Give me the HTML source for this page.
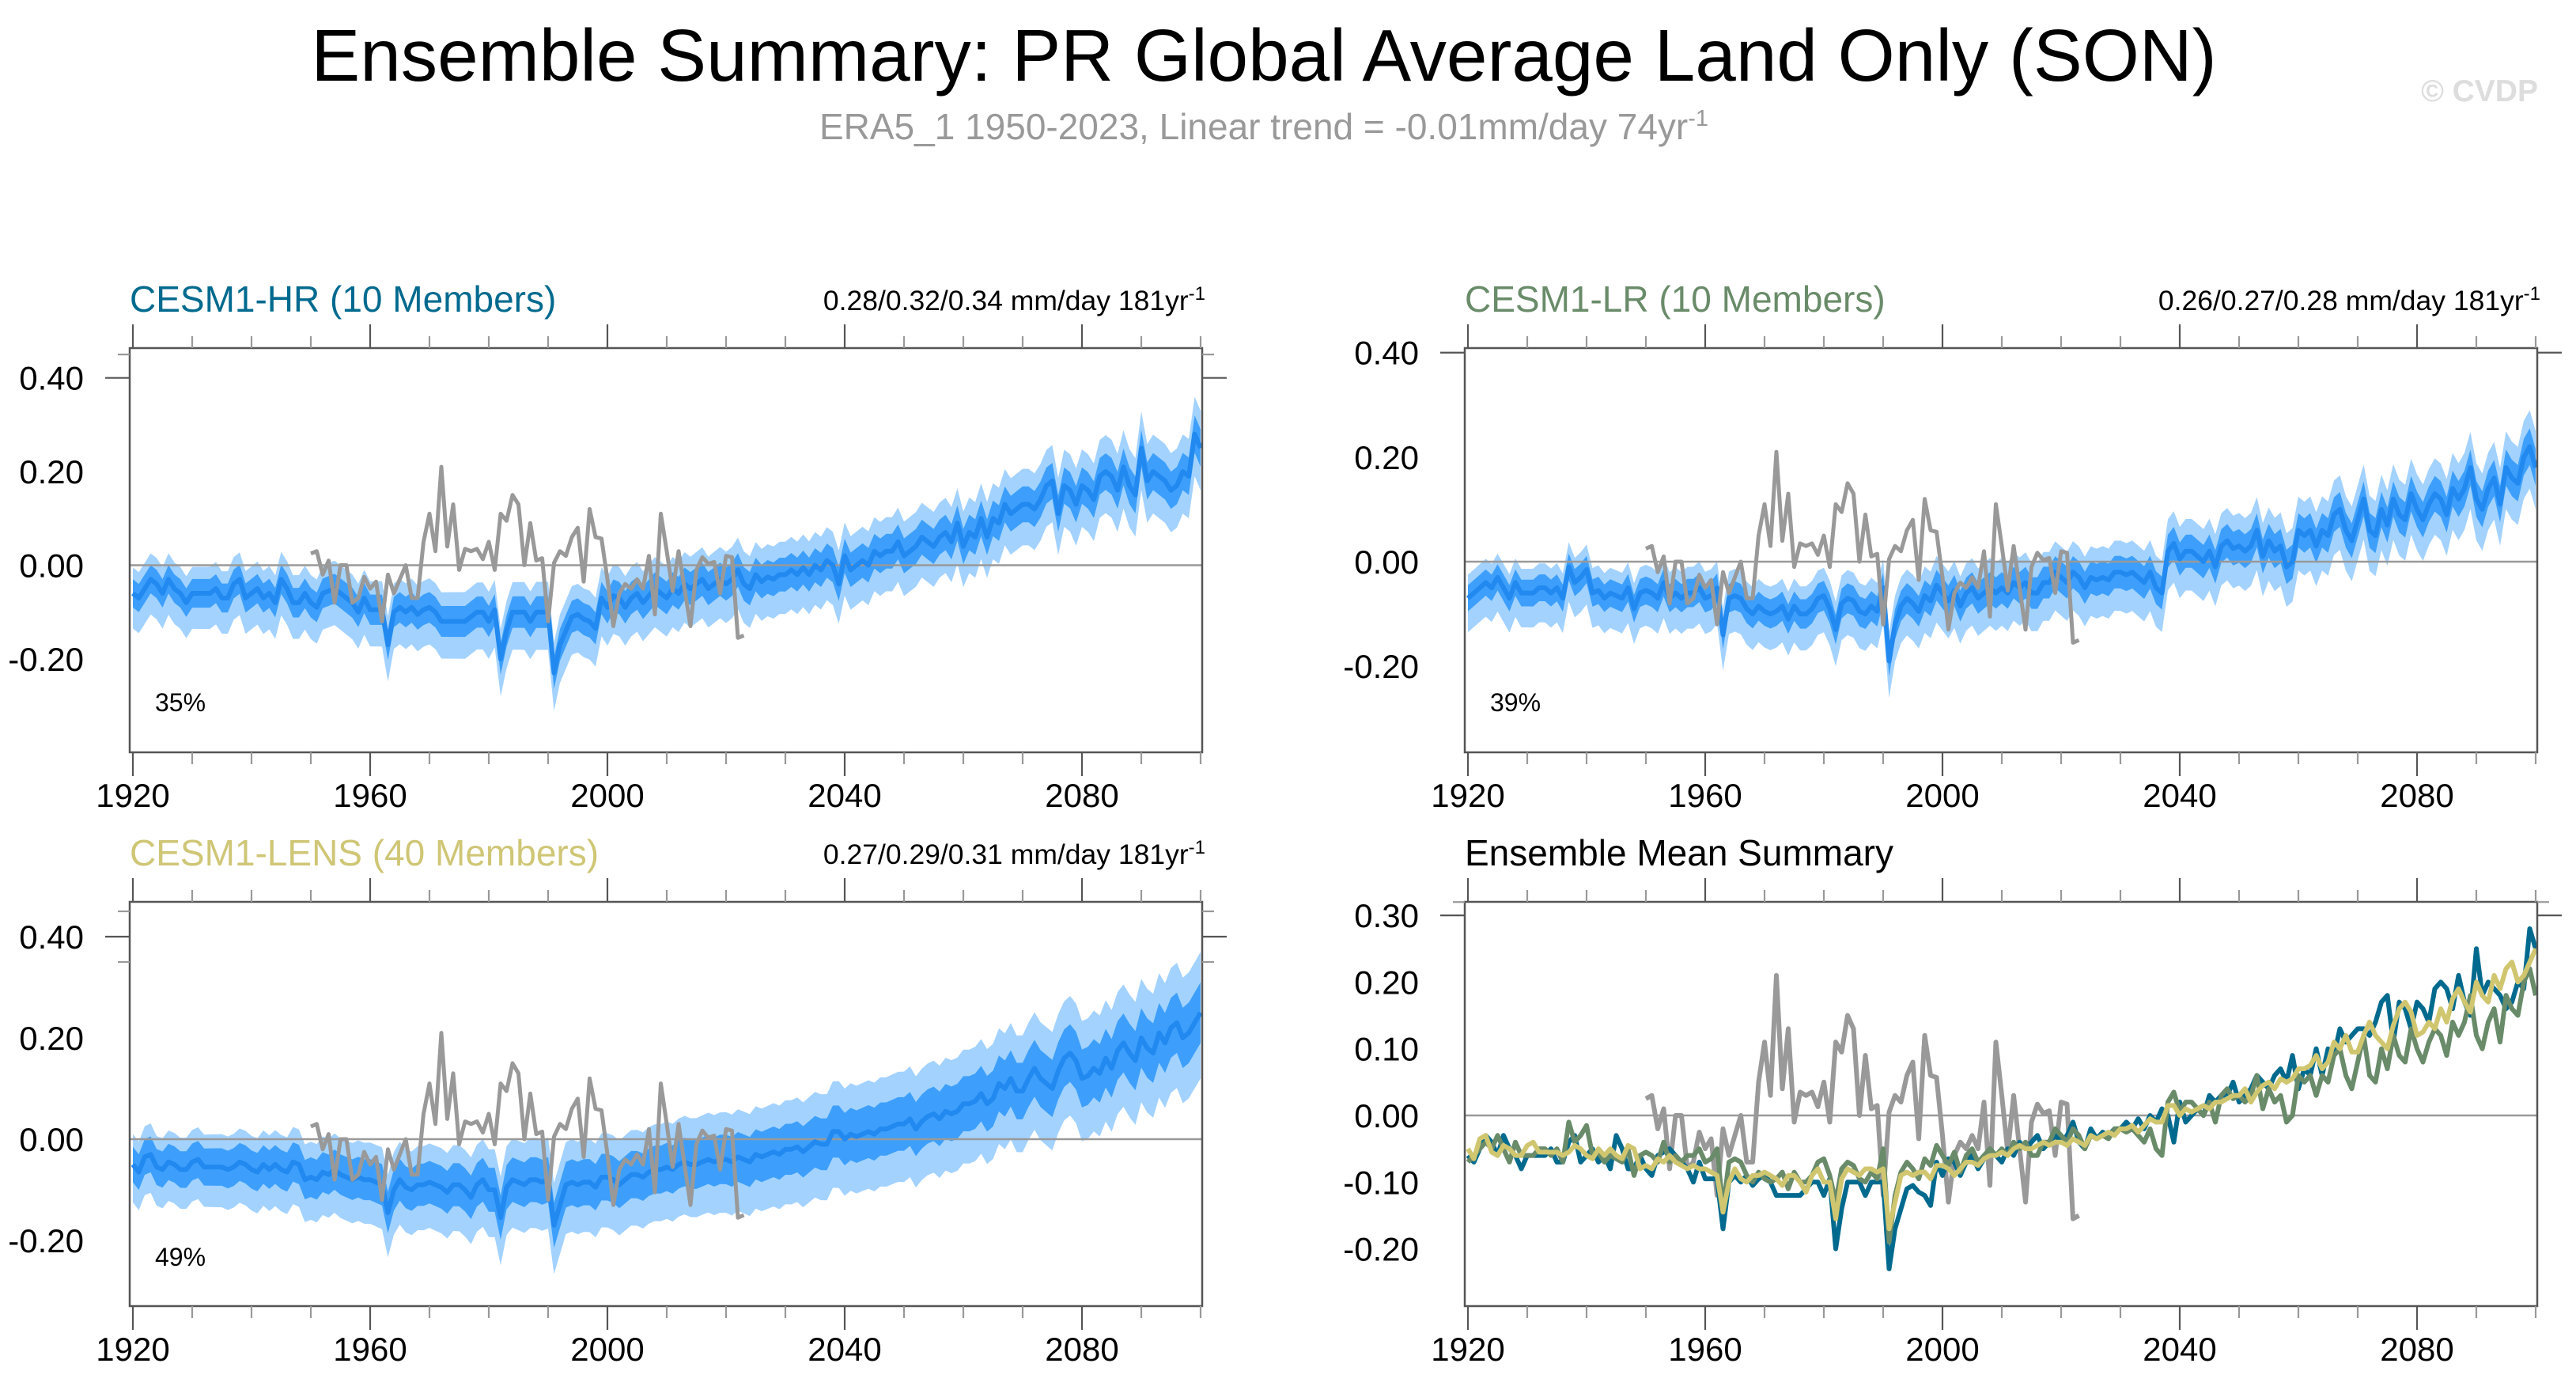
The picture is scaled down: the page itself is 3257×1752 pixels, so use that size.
<!DOCTYPE html>
<html><head><meta charset="utf-8"><style>
html,body{margin:0;padding:0;background:#fff}
svg{display:block}
text{font-family:"Liberation Sans",sans-serif}
</style></head><body>
<svg id="c" width="3257" height="1752" viewBox="0 0 3257 1752" xmlns="http://www.w3.org/2000/svg">
<text x="1598" y="102" font-size="92.7" text-anchor="middle" fill="#000">Ensemble Summary: PR Global Average Land Only (SON)</text>
<text x="1598" y="176" font-size="46" text-anchor="middle" fill="#999">ERA5_1 1950-2023, Linear trend = -0.01mm/day 74yr<tspan dy="-17" font-size="29">-1</tspan></text>
<text x="3209" y="128" font-size="39" font-weight="bold" text-anchor="end" fill="#ddd">© CVDP</text>
<g id="plots"></g>
</svg>
<script>
const years = [];
for (let y = 1920; y <= 2100; y++) years.push(y);
const obsStartYear = 1950;
const hrMean = [
-0.06,-0.07,-0.05,-0.03,-0.04,-0.06,-0.03,-0.05,-0.06,-0.08,
-0.06,-0.06,-0.06,-0.06,-0.05,-0.07,-0.07,-0.04,-0.03,-0.07,
-0.06,-0.05,-0.07,-0.06,-0.08,-0.03,-0.05,-0.08,-0.08,-0.06,
-0.08,-0.09,-0.06,-0.055,-0.05,-0.06,-0.07,-0.08,-0.10,-0.07,
-0.095,-0.095,-0.095,-0.17,-0.10,-0.09,-0.10,-0.09,-0.105,-0.095,
-0.09,-0.10,-0.12,-0.12,-0.12,-0.12,-0.12,-0.11,-0.10,-0.10,
-0.12,-0.095,-0.20,-0.14,-0.10,-0.10,-0.10,-0.12,-0.10,-0.10,
-0.10,-0.23,-0.17,-0.14,-0.11,-0.105,-0.115,-0.12,-0.135,-0.07,
-0.09,-0.065,-0.07,-0.09,-0.07,-0.06,-0.08,-0.065,-0.05,-0.06,
-0.07,-0.05,-0.06,-0.04,-0.05,-0.04,-0.03,-0.05,-0.04,-0.03,
-0.04,-0.03,-0.01,-0.04,-0.05,-0.02,-0.035,-0.025,-0.03,-0.02,
-0.02,-0.01,-0.02,-0.005,-0.02,0.00,-0.01,0.01,0.00,-0.04,
0.02,-0.01,0.0,0.01,0.0,0.03,0.02,0.03,0.03,0.05,
0.02,0.03,0.04,0.06,0.05,0.04,0.06,0.07,0.05,0.09,
0.04,0.07,0.06,0.10,0.06,0.10,0.09,0.13,0.11,0.12,
0.13,0.13,0.12,0.14,0.17,0.18,0.11,0.17,0.16,0.13,
0.17,0.16,0.14,0.19,0.20,0.19,0.16,0.21,0.17,0.15,
0.25,0.18,0.20,0.19,0.18,0.16,0.17,0.20,0.19,0.28,
0.25];
const lrMean = [
-0.07,-0.06,-0.05,-0.04,-0.05,-0.03,-0.05,-0.07,-0.04,-0.06,
-0.06,-0.06,-0.05,-0.05,-0.06,-0.05,-0.07,-0.01,-0.04,-0.03,
-0.015,-0.06,-0.055,-0.07,-0.06,-0.065,-0.07,-0.05,-0.09,-0.06,
-0.055,-0.06,-0.07,-0.04,-0.07,-0.06,-0.07,-0.06,-0.06,-0.05,
-0.07,-0.065,-0.05,-0.14,-0.07,-0.065,-0.07,-0.09,-0.10,-0.085,
-0.095,-0.10,-0.095,-0.085,-0.11,-0.085,-0.10,-0.10,-0.09,-0.07,
-0.065,-0.09,-0.13,-0.08,-0.07,-0.075,-0.095,-0.10,-0.085,-0.095,
-0.05,-0.19,-0.12,-0.085,-0.07,-0.08,-0.095,-0.065,-0.075,-0.045,
-0.06,-0.075,-0.055,-0.085,-0.06,-0.05,-0.07,-0.06,-0.05,-0.06,
-0.05,-0.06,-0.04,-0.05,-0.04,-0.06,-0.06,-0.04,-0.04,-0.02,
-0.03,-0.04,-0.02,-0.03,-0.05,-0.03,-0.035,-0.03,-0.035,-0.02,
-0.02,-0.025,-0.02,-0.03,-0.04,-0.02,-0.05,-0.06,0.02,0.035,
0.005,0.02,0.02,0.01,0.0,0.02,-0.01,0.03,0.04,0.025,
0.03,0.02,0.03,0.06,0.01,0.04,0.02,0.03,-0.01,0.0,
0.06,0.05,0.06,0.03,0.06,0.05,0.09,0.10,0.06,0.04,
0.08,0.12,0.06,0.05,0.10,0.07,0.12,0.09,0.08,0.13,
0.10,0.08,0.11,0.13,0.12,0.09,0.14,0.12,0.14,0.18,
0.12,0.10,0.14,0.16,0.11,0.18,0.16,0.15,0.20,0.22,
0.18];
const lensMean = [
-0.05,-0.065,-0.035,-0.03,-0.055,-0.06,-0.045,-0.05,-0.06,-0.06,
-0.045,-0.04,-0.055,-0.055,-0.055,-0.055,-0.06,-0.055,-0.045,-0.05,
-0.06,-0.065,-0.05,-0.06,-0.05,-0.06,-0.065,-0.045,-0.05,-0.08,
-0.075,-0.08,-0.065,-0.07,-0.06,-0.07,-0.075,-0.08,-0.075,-0.08,
-0.08,-0.085,-0.09,-0.145,-0.10,-0.08,-0.095,-0.10,-0.09,-0.09,
-0.085,-0.09,-0.095,-0.105,-0.09,-0.09,-0.10,-0.115,-0.09,-0.08,
-0.10,-0.10,-0.155,-0.095,-0.08,-0.085,-0.09,-0.08,-0.08,-0.085,
-0.08,-0.17,-0.13,-0.09,-0.085,-0.09,-0.085,-0.085,-0.095,-0.075,
-0.075,-0.08,-0.09,-0.08,-0.07,-0.07,-0.075,-0.065,-0.06,-0.06,
-0.055,-0.06,-0.05,-0.045,-0.05,-0.05,-0.045,-0.04,-0.045,-0.04,
-0.04,-0.045,-0.035,-0.04,-0.045,-0.03,-0.035,-0.03,-0.025,-0.03,
-0.02,-0.02,-0.015,-0.025,-0.015,-0.005,-0.01,-0.01,0.015,0.015,
0.0,0.01,0.005,0.01,0.015,0.01,0.02,0.02,0.025,0.03,
0.03,0.04,0.02,0.035,0.045,0.05,0.04,0.055,0.05,0.055,
0.07,0.07,0.075,0.09,0.07,0.08,0.11,0.10,0.12,0.095,
0.095,0.12,0.14,0.12,0.11,0.10,0.135,0.16,0.17,0.155,
0.12,0.125,0.14,0.13,0.16,0.14,0.175,0.19,0.17,0.155,
0.20,0.18,0.17,0.21,0.19,0.22,0.23,0.2,0.21,0.23,
0.25];
const obs = [
0.025,0.03,-0.02,0.01,-0.08,0.0,0.0,-0.08,-0.07,-0.025,
-0.05,-0.035,-0.12,-0.02,-0.06,-0.03,0.0,-0.07,-0.07,0.05,
0.11,0.03,0.21,0.04,0.13,-0.01,0.035,0.03,0.035,0.013,
0.05,-0.01,0.11,0.095,0.15,0.13,0.0,0.09,0.01,0.015,
-0.12,0.005,0.03,0.02,0.06,0.08,-0.035,0.12,0.06,0.057,
-0.03,-0.13,-0.06,-0.04,-0.05,-0.03,-0.05,0.02,-0.105,0.11,
0.03,-0.055,0.03,-0.05,-0.13,-0.01,0.017,0.003,0.007,-0.06,
0.02,0.017,-0.155,-0.15];
// ensemble spread half-widths [1920, 2100]
const hrInner = [0.03, 0.04];
const hrOuterUp = [0.055, 0.08];
const hrOuterDn = [0.075, 0.09];
const lrInner = [0.025, 0.035];
const lrOuterUp = [0.045, 0.07];
const lrOuterDn = [0.065, 0.08];
const lensInner = [0.035, 0.06];
const lensOuterUp = [0.06, 0.12];
const lensOuterDn = [0.075, 0.13];
const xMajorTicks = [1920, 1960, 2000, 2040, 2080];
const yTicksModel = [-0.2, 0.0, 0.2, 0.4];
const yTicksSummary = [-0.2, -0.1, 0.0, 0.1, 0.2, 0.3];
const rangeTexts = ["0.28/0.32/0.34 mm/day 181yr", "0.26/0.27/0.28 mm/day 181yr", "0.27/0.29/0.31 mm/day 181yr"];
const pctTexts = ["35%", "39%", "49%"];

const NS = "http://www.w3.org/2000/svg";
const root = document.getElementById('plots');
function mk(tag, attrs, parent) {
  const e = document.createElementNS(NS, tag);
  for (const k in attrs) e.setAttribute(k, attrs[k]);
  (parent || root).appendChild(e);
  return e;
}
function lerp(a, t) { return a[0] + (a[1] - a[0]) * t; }

function panel(cfg) {
  const g = mk('g', {});
  
  
  const X = yr => cfg.x0 + (yr - 1920) * 7.5;
  const Y = v => cfg.yZero - v * cfg.ppu;
  const L = cfg.boxL, R = X(2100) + 2, T = cfg.top, B = cfg.bottom;
  const yMin = (cfg.yZero - B) / -cfg.ppu, yMax = (cfg.yZero - T) / cfg.ppu;
  const cid = 'clip-' + cfg.name;
  const cp = mk('clipPath', {id: cid}, g);
  mk('rect', {x: L, y: T, width: R - L, height: B - T}, cp);
  const inner = mk('g', {'clip-path': 'url(#' + cid + ')'}, g);
  if (cfg.bands) {
    const b = cfg.bands;
    let up = [], dn = [], iu = [], id = [];
    years.forEach((yr, i) => {
      const t = i / (years.length - 1);
      const m = b.mean[i];
      up.push(X(yr) + ',' + Y(m + lerp(b.oUp, t)));
      dn.unshift(X(yr) + ',' + Y(m - lerp(b.oDn, t)));
      iu.push(X(yr) + ',' + Y(m + lerp(b.inner, t)));
      id.unshift(X(yr) + ',' + Y(m - lerp(b.inner, t)));
    });
    const o = mk('polygon', {points: up.concat(dn).join(' '), fill: '#a3d2ff'}, inner);
    
    
    const ii = mk('polygon', {points: iu.concat(id).join(' '), fill: '#3d9ffb'}, inner);
    
    
  }
  const z = mk('line', {x1: L, x2: R, y1: Y(0), y2: Y(0), stroke: '#999', 'stroke-width': 2.5}, inner);
  
  
  cfg.series.forEach(s => {
    const pts = s.data.map((v, i) => X(s.start + i) + ',' + Y(v)).join(' ');
    const p = mk('polyline', {points: pts, fill: 'none', stroke: s.color, 'stroke-width': s.w, 'stroke-linejoin': 'round'}, inner);
    
    
  });
  const bx = mk('rect', {x: L, y: T, width: R - L, height: B - T, fill: 'none', stroke: '#555', 'stroke-width': 2.5}, g);
  
  
  for (let yr = 1920; yr <= 2100; yr += 10) {
    const maj = xMajorTicks.includes(yr);
    const len = maj ? 30 : 15;
    mk('line', {x1: X(yr), x2: X(yr), y1: T, y2: T - len, stroke: maj ? '#555' : '#999', 'stroke-width': 2.2}, g);
    mk('line', {x1: X(yr), x2: X(yr), y1: B, y2: B + len, stroke: maj ? '#555' : '#999', 'stroke-width': 2.2}, g);
  }
  xMajorTicks.forEach(yr => {
    const t = mk('text', {x: X(yr), y: cfg.xLabelY, 'font-size': 42, 'text-anchor': 'middle', fill: '#000'}, g);
    
    
    t.textContent = yr;
  });
  const n0 = Math.ceil(yMin / cfg.minor - 1e-6), n1 = Math.floor(yMax / cfg.minor + 1e-6);
  for (let n = n0; n <= n1; n++) {
    const v = n * cfg.minor;
    const maj = cfg.yTicks.some(t => Math.abs(t - v) < 1e-6);
    const len = maj ? 31 : 15;
    mk('line', {x1: L, x2: L - len, y1: Y(v), y2: Y(v), stroke: maj ? '#555' : '#999', 'stroke-width': 2.2}, g);
    mk('line', {x1: R, x2: R + len, y1: Y(v), y2: Y(v), stroke: maj ? '#555' : '#999', 'stroke-width': 2.2}, g);
  }
  cfg.yTicks.forEach(v => {
    const t = mk('text', {x: L - 58, y: Y(v) + 15, 'font-size': 42, 'text-anchor': 'end', fill: '#000'}, g);
    
    
    t.textContent = v.toFixed(2);
  });
  const tt = mk('text', {x: L, y: cfg.titleY, 'font-size': 46, fill: cfg.titleColor}, g);
  
  
  tt.textContent = cfg.title;
  if (cfg.range) {
    const rt = mk('text', {x: R + 4, y: cfg.titleY - 2, 'font-size': 35.5, 'text-anchor': 'end', fill: '#000'}, g);
    
    
    rt.textContent = cfg.range;
    const sp = mk('tspan', {dy: -13, 'font-size': 24}, rt);
    sp.textContent = '-1';
  }
  if (cfg.pct) {
    const pt = mk('text', {x: L + 32, y: cfg.pctY, 'font-size': 32, fill: '#000'}, g);
    
    
    pt.textContent = cfg.pct;
  }
}

panel({name: 'cesm1-hr-panel', x0: 168, boxL: 164, top: 440, bottom: 951, yZero: 714.5, ppu: 592,
  minor: 0.05, yTicks: yTicksModel, xLabelY: 1020,
  title: 'CESM1-HR (10 Members)', titleColor: '#006a8e', titleY: 394, range: rangeTexts[0], pct: pctTexts[0], pctY: 899,
  bands: {mean: hrMean, inner: hrInner, oUp: hrOuterUp, oDn: hrOuterDn},
  series: [{data: hrMean, start: 1920, color: '#2189ef', w: 6, name: 'hr-ensemble-mean'},
           {data: obs, start: obsStartYear, color: '#999', w: 5, name: 'era5-observations'}]});
panel({name: 'cesm1-lr-panel', x0: 1856, boxL: 1852, top: 440, bottom: 951, yZero: 710, ppu: 660.7,
  minor: 0.05, yTicks: yTicksModel, xLabelY: 1020,
  title: 'CESM1-LR (10 Members)', titleColor: '#698b69', titleY: 394, range: rangeTexts[1], pct: pctTexts[1], pctY: 899,
  bands: {mean: lrMean, inner: lrInner, oUp: lrOuterUp, oDn: lrOuterDn},
  series: [{data: lrMean, start: 1920, color: '#2189ef', w: 6, name: 'lr-ensemble-mean'},
           {data: obs, start: obsStartYear, color: '#999', w: 5, name: 'era5-observations'}]});
panel({name: 'cesm1-lens-panel', x0: 168, boxL: 164, top: 1140, bottom: 1651, yZero: 1440, ppu: 640,
  minor: 0.05, yTicks: yTicksModel, xLabelY: 1720,
  title: 'CESM1-LENS (40 Members)', titleColor: '#cfc676', titleY: 1094, range: rangeTexts[2], pct: pctTexts[2], pctY: 1600,
  bands: {mean: lensMean, inner: lensInner, oUp: lensOuterUp, oDn: lensOuterDn},
  series: [{data: lensMean, start: 1920, color: '#2189ef', w: 6, name: 'lens-ensemble-mean'},
           {data: obs, start: obsStartYear, color: '#999', w: 5, name: 'era5-observations'}]});
panel({name: 'ensemble-mean-summary-panel', x0: 1856, boxL: 1852, top: 1140, bottom: 1651, yZero: 1410, ppu: 843,
  minor: 0.02, yTicks: yTicksSummary, xLabelY: 1720,
  title: 'Ensemble Mean Summary', titleColor: '#000', titleY: 1094,
  series: [{data: obs, start: obsStartYear, color: '#999', w: 6, name: 'era5-observations'},
           {data: hrMean, start: 1920, color: '#006a8e', w: 6, name: 'hr-mean-line'},
           {data: lrMean, start: 1920, color: '#698b69', w: 6, name: 'lr-mean-line'},
           {data: lensMean, start: 1920, color: '#d0c670', w: 6, name: 'lens-mean-line'}]});
</script>
</body></html>
